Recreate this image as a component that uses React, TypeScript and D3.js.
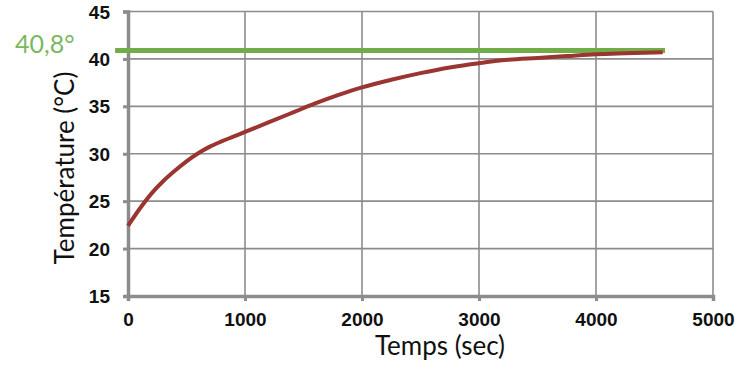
import * as d3 from "d3";
import { useEffect, useRef } from "react";

// temps (sec) et température (°C)
const timeSec = [
  0, 100, 200, 300, 400, 500, 600, 700, 800, 900, 1000, 1200, 1400, 1600,
  1800, 2000, 2250, 2500, 2750, 3000, 3250, 3500, 3750, 4000, 4250, 4570,
];
const tempC = [
  22.4, 24.2, 25.8, 27.1, 28.2, 29.2, 30.05, 30.75, 31.3, 31.8, 32.3, 33.3,
  34.3, 35.3, 36.2, 37.0, 37.8, 38.5, 39.1, 39.55, 39.9, 40.1, 40.3, 40.5,
  40.6, 40.7,
];
const plateauTime = [-110, 4590];
const plateauTemp = 40.9;
const plateauLabel = "40,8°";
const xTicks = [0, 1000, 2000, 3000, 4000, 5000];
const yTicks = [15, 20, 25, 30, 35, 40, 45];

export default function App() {
  const ref = useRef<SVGSVGElement | null>(null);

  useEffect(() => {
    const svg = d3.select(ref.current);
    svg.selectAll("*").remove();

    const width = 747;
    const height = 369;
    const x = d3.scaleLinear().domain([0, 5000]).range([128, 713]);
    const y = d3.scaleLinear().domain([15, 45]).range([296, 11.5]);
    const grey = "#8c8c8c";
    const bold = "'Liberation Sans', Arial, sans-serif";
    const light = "Lato, 'Open Sans', sans-serif";

    svg.attr("width", width).attr("height", height);

    // grille
    svg
      .append("g")
      .selectAll("line.h")
      .data(yTicks.slice(1))
      .enter()
      .append("line")
      .attr("x1", x(0))
      .attr("x2", x(5000))
      .attr("y1", (d) => y(d))
      .attr("y2", (d) => y(d))
      .attr("stroke", grey)
      .attr("stroke-width", 1.6);

    svg
      .append("g")
      .selectAll("line.v")
      .data(xTicks.slice(1))
      .enter()
      .append("line")
      .attr("x1", (d) => x(d))
      .attr("x2", (d) => x(d))
      .attr("y1", y(45))
      .attr("y2", y(15))
      .attr("stroke", grey)
      .attr("stroke-width", 1.6);

    // axes
    const xAxis = svg
      .append("g")
      .attr("transform", `translate(0,${y(15)})`)
      .call(
        d3
          .axisBottom(x)
          .tickValues(xTicks)
          .tickFormat(d3.format("d"))
          .tickSize(5)
          .tickPadding(12)
      );
    const yAxis = svg
      .append("g")
      .attr("transform", `translate(${x(0)},0)`)
      .call(
        d3
          .axisLeft(y)
          .tickValues(yTicks)
          .tickFormat(d3.format("d"))
          .tickSize(5)
          .tickPadding(13)
      );

    [xAxis, yAxis].forEach((g) => {
      g.select(".domain").attr("stroke", grey).attr("stroke-width", 3.5);
      g.selectAll(".tick line").attr("stroke", grey).attr("stroke-width", 3);
      g.selectAll(".tick text")
        .attr("fill", "#111")
        .style("font-family", bold)
        .style("font-weight", "bold")
        .style("font-size", "19px");
    });
    yAxis.selectAll(".tick text").attr("dy", "0.35em");

    // plateau
    const pts = plateauTime.map((t) => [t, plateauTemp] as [number, number]);
    svg
      .append("path")
      .datum(pts)
      .attr("fill", "none")
      .attr("stroke", "#70ad47")
      .attr("stroke-width", 5)
      .attr("d", d3.line().x((d) => x(d[0])).y((d) => y(d[1])));

    svg
      .append("text")
      .attr("x", 15)
      .attr("y", 53)
      .attr("fill", "#7ab85e")
      .style("font-family", light)
      .style("font-size", "25px")
      .text(plateauLabel);

    // courbe
    const data = timeSec.map((t, i) => [t, tempC[i]] as [number, number]);
    svg
      .append("path")
      .datum(data)
      .attr("fill", "none")
      .attr("stroke", "#9a3532")
      .attr("stroke-width", 4)
      .attr(
        "d",
        d3
          .line()
          .curve(d3.curveMonotoneX)
          .x((d) => x(d[0]))
          .y((d) => y(d[1]))
      );

    // titres des axes
    svg
      .append("text")
      .attr("transform", `translate(74,168) rotate(-90)`)
      .attr("text-anchor", "middle")
      .attr("fill", "#111")
      .style("font-family", light)
      .style("font-size", "26px")
      .text("Température (°C)");

    svg
      .append("text")
      .attr("x", 440)
      .attr("y", 355)
      .attr("text-anchor", "middle")
      .attr("fill", "#111")
      .style("font-family", light)
      .style("font-size", "26px")
      .text("Temps (sec)");
  }, []);

  return (
    <div style={{ position: "fixed", left: 0, top: 0, background: "#fff" }}>
      <svg ref={ref}></svg>
    </div>
  );
}
